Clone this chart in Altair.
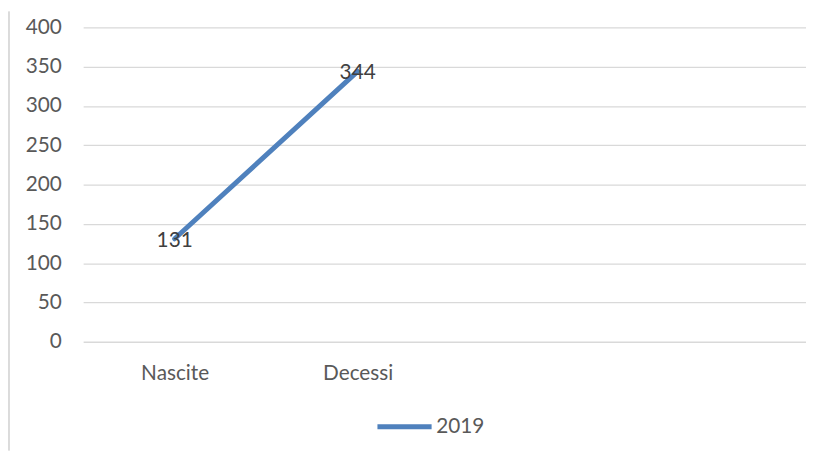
import altair as alt
import pandas as pd

categories = ["Nascite", "Decessi"]
values = [131, 344]
series = ["2019", "2019"]
y_ticks = [0, 50, 100, 150, 200, 250, 300, 350, 400]

df = pd.DataFrame({"cat": categories, "val": values, "serie": series,
                   "idx": list(range(len(categories)))})

FONT = "Lato"
FS = 21
label_expr = "datum.value == 0 ? 'Nascite' : datum.value == 1 ? 'Decessi' : ''"

x_enc = alt.X("idx:Q",
              scale=alt.Scale(domain=[-0.5, 3.45], nice=False, zero=False),
              axis=alt.Axis(title=None, domain=False, ticks=False, grid=False,
                            values=[0, 1], labelExpr=label_expr,
                            labelFont=FONT, labelFontSize=FS, labelColor="#595959",
                            labelPadding=21, labelAngle=0))
y_enc = alt.Y("val:Q", scale=alt.Scale(domain=[0, 400], nice=False),
              axis=alt.Axis(title=None, domain=False, ticks=False, values=y_ticks,
                            tickCount=9, labelOverlap=False,
                            gridColor="#d9d9d9", gridWidth=1.3,
                            labelFont=FONT, labelFontSize=FS, labelColor="#595959",
                            labelPadding=22))

line = alt.Chart(df).mark_line(strokeWidth=5, strokeCap="round").encode(
    x=x_enc, y=y_enc,
    color=alt.Color("serie:N", scale=alt.Scale(range=["#4f81bd"]),
                    legend=alt.Legend(title=None, orient="none", legendX=295, legendY=374,
                                      symbolType="stroke", symbolSize=3000, symbolStrokeWidth=5,
                                      labelFont=FONT, labelFontSize=FS, labelColor="#595959",
                                      labelOffset=2)),
)

labels = alt.Chart(df).mark_text(font=FONT, fontSize=FS, color="#404040", dy=2).encode(
    x=x_enc, y=y_enc, text="val:Q"
)

border = alt.Chart(df).mark_rule(color="#d9d9d9", strokeWidth=1.5).encode(
    x=alt.value(-75), y=alt.value(-16), y2=alt.value(428)
)

chart = (line + labels + border).properties(
    width=731, height=318,
    padding={"left": 0, "top": 0, "right": 0, "bottom": 0},
).configure_view(stroke=None)

chart.save("out.html", embed_options={"renderer": "svg", "actions": False})
